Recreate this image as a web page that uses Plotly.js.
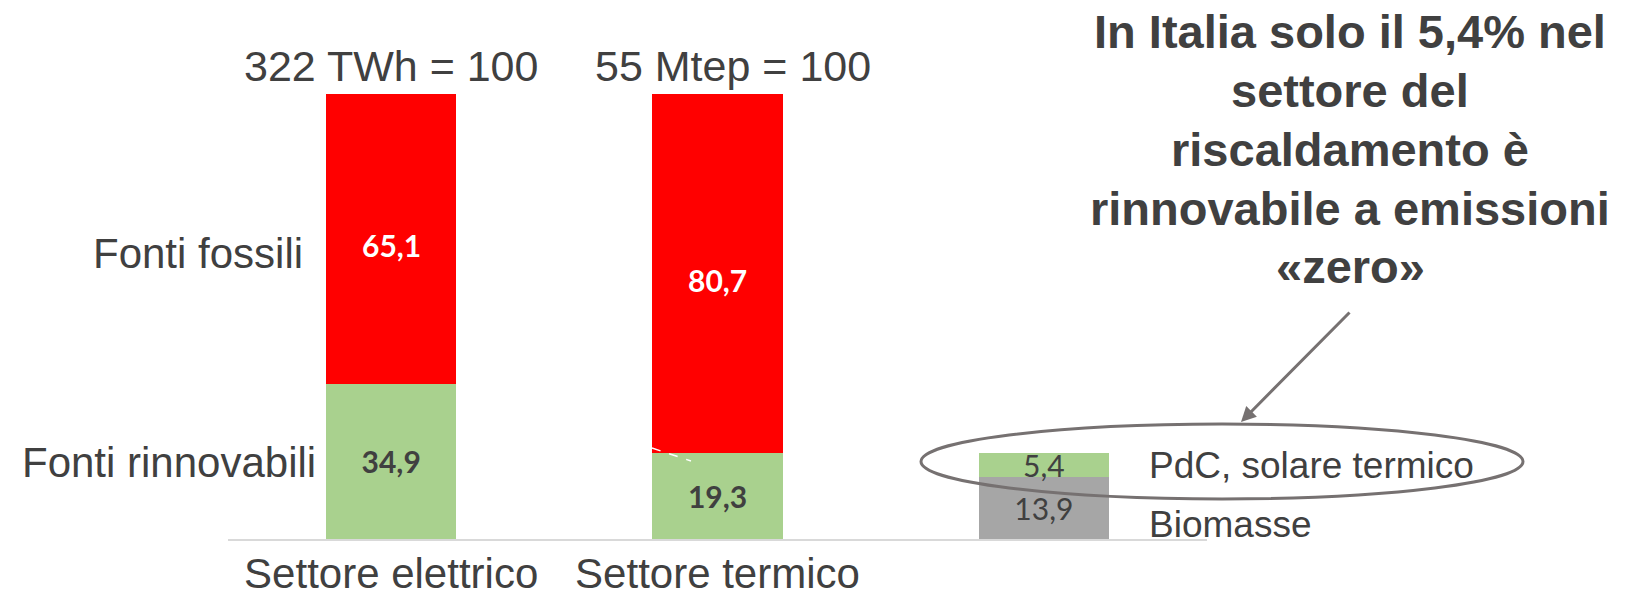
<!DOCTYPE html>
<html>
<head>
<meta charset="utf-8">
<script src="https://cdn.plot.ly/plotly-3.0.1.min.js"></script>
<style>
  html, body { margin: 0; padding: 0; background: #ffffff; }
  #chart { width: 1642px; height: 597px; }
</style>
</head>
<body>
<div id="chart"></div>
<script>
// ---- Data ----
const positions = [0, 1, 2];
const categoryLabels = ["Settore elettrico", "Settore termico"];
const totalLabels = ["322 TWh = 100", "55 Mtep = 100"];
const rinnovabili = [34.9, 19.3, null];
const fossili = [65.1, 80.7, null];
const biomasse = [null, null, 13.9];
const pdcSolare = [null, null, 5.4];
const rowLabels = ["Fonti fossili", "Fonti rinnovabili"];
const seriesNames = ["PdC, solare termico", "Biomasse"];
const headline = ["In Italia solo il 5,4% nel", "settore del", "riscaldamento è", "rinnovabile a emissioni", "«zero»"];

const TXT = "#404040";
const SANS = "Liberation Sans, Arial, sans-serif";
const LBL = "Lato, Open Sans, sans-serif";

function barTrace(name, y, color, txtColor, bold, showText) {
  return {
    type: "bar", name: name, x: positions, y: y,
    marker: { color: color, line: { width: 0 } },
    texttemplate: showText ? "%{y:.1f}" : "",
    textposition: showText ? "inside" : "none",
    insidetextanchor: "middle",
    textangle: 0,
    constraintext: "none",
    textfont: { family: LBL, size: 30, color: txtColor, weight: bold ? 700 : 400 },
    hoverinfo: "skip"
  };
}

const data = [
  barTrace("Fonti rinnovabili", rinnovabili, "#A9D18E", TXT, true, true),
  barTrace("Biomasse", biomasse, "#A6A6A6", TXT, false, true),
  barTrace("PdC, solare termico", pdcSolare, "#A9D18E", TXT, false, true),
  barTrace("Fonti fossili", fossili, "#FF0000", "#FFFFFF", true, false)
];

// pixel helpers for decorative overlays (plot area: x 228..1207, y 94..539)
const PL = 228, PW = 979, PB = 539, PH = 445;
const px = v => (v - PL) / PW;
const py = v => (PB - v) / PH;

const annotations = [];

// fossil-fuel value labels (middle of each red segment, slightly lowered like the original)
fossili.forEach((v, i) => {
  if (v == null) return;
  annotations.push({
    xref: "x", yref: "y", x: positions[i], y: rinnovabili[i] + v / 2, yshift: -6,
    text: v.toFixed(1).replace(".", ","), showarrow: false,
    xanchor: "center", yanchor: "middle",
    font: { family: LBL, size: 30, color: "#FFFFFF", weight: 700 }
  });
});

annotations.push(
  { xref: "x", yref: "paper", x: positions[0], y: py(66), text: totalLabels[0], showarrow: false,
    xanchor: "center", yanchor: "middle", font: { family: SANS, size: 43, color: TXT } },
  { xref: "x", yref: "paper", x: positions[1], xshift: 15, y: py(66), text: totalLabels[1], showarrow: false,
    xanchor: "center", yanchor: "middle", font: { family: SANS, size: 43, color: TXT } },
  { xref: "paper", yref: "paper", x: px(305), y: py(253), text: rowLabels[0], showarrow: false,
    xanchor: "right", yanchor: "middle", font: { family: SANS, size: 42, color: TXT } },
  { xref: "paper", yref: "paper", x: px(318), y: py(462), text: rowLabels[1], showarrow: false,
    xanchor: "right", yanchor: "middle", font: { family: SANS, size: 42, color: TXT } },
  { xref: "paper", yref: "paper", x: px(1147), y: py(465), text: seriesNames[0], showarrow: false,
    xanchor: "left", yanchor: "middle", font: { family: SANS, size: 37, color: TXT } },
  { xref: "paper", yref: "paper", x: px(1147), y: py(524), text: seriesNames[1], showarrow: false,
    xanchor: "left", yanchor: "middle", font: { family: SANS, size: 37, color: TXT } },
  { xref: "paper", yref: "paper", x: px(1241), y: py(422), text: "", showarrow: true,
    ax: 110, ay: -111, axref: "pixel", ayref: "pixel",
    arrowhead: 2, arrowsize: 1, arrowwidth: 3, arrowcolor: "#767171", standoff: 0 }
);

// headline, one annotation per line
headline.forEach((line, i) => {
  annotations.push({
    xref: "paper", yref: "paper", x: px(1350), y: py(32 + i * 58.7),
    text: "<b>" + line + "</b>", showarrow: false,
    xanchor: "center", yanchor: "middle", align: "center",
    font: { family: SANS, size: 47, color: TXT }
  });
});

const shapes = [
  { type: "circle", xref: "paper", yref: "paper", x0: px(921), x1: px(1523), y0: py(499), y1: py(424),
    line: { color: "#767171", width: 3 }, fillcolor: "rgba(0,0,0,0)", layer: "above" },
  { type: "line", xref: "paper", yref: "paper", x0: px(652), y0: py(448), x1: px(691), y1: py(461),
    line: { color: "#FFFFFF", width: 1.5, dash: "dash" }, layer: "above" }
];

const layout = {
  width: 1642, height: 597,
  margin: { l: 228, r: 435, t: 94, b: 58, pad: 0 },
  paper_bgcolor: "#ffffff", plot_bgcolor: "#ffffff",
  barmode: "stack", bargap: 0.6,
  separators: ",.",
  showlegend: false,
  xaxis: {
    type: "linear", range: [-0.5, 2.5],
    tickvals: positions.slice(0, 2), ticktext: categoryLabels,
    showgrid: false, zeroline: false,
    showline: true, linecolor: "#D9D9D9", linewidth: 2,
    ticks: "", ticklen: 0, ticklabelstandoff: -3,
    tickfont: { family: SANS, size: 42, color: TXT },
    fixedrange: true
  },
  yaxis: {
    range: [0, 100], visible: false, showgrid: false, zeroline: false, fixedrange: true
  },
  annotations: annotations,
  shapes: shapes
};

Plotly.newPlot("chart", data, layout, { displayModeBar: false, staticPlot: true });
</script>
</body>
</html>
